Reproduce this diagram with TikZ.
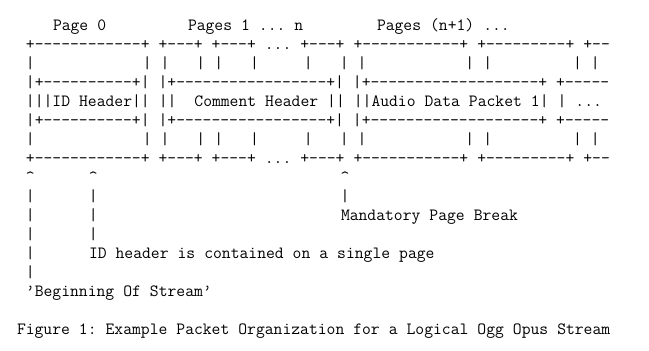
\documentclass[tikz,border=0pt]{standalone}
\usepackage{fontspec}
\newlength\cw
\setlength\cw{9pt}
\newcommand\gap[1]{\hspace*{#1\cw}}
\newcommand\hl[1]{\ifnum#1>0 -\expandafter\hl\expandafter{\the\numexpr#1-1\relax}\fi}
\newcommand\car{\textasciicircum}
\tikzset{
  row/.style={anchor=base west, inner sep=0pt, outer sep=0pt,
    font=\ttfamily\fontsize{17.142857}{19}\selectfont\frenchspacing, text=black},
}
% column c -> x = 9c-19 ; row r -> baseline y = 30.5+19r
\begin{document}
\begin{tikzpicture}[x=1pt,y=-1pt]
\useasboundingbox[fill=white] (0,0) rectangle (649,351);
% page labels
\node[row] (p0) at (9*8-19, 30.5) {Page\gap{1}0};
\node[row] (p1) at (9*23-19, 30.5) {Pages\gap{1}1\gap{1}...\gap{1}n};
\node[row] (p2) at (9*44-19, 30.5) {Pages\gap{1}(n+1)\gap{1}...};
% pages and packets
\node[row] (r1) at (9*5-19, 30.5+19*1) {+\hl{12}+\gap{1}+\hl{3}+\gap{1}+\hl{3}+\gap{1}...\gap{1}+\hl{3}+\gap{1}+\hl{11}+\gap{1}+\hl{9}+\gap{1}+\hl{2}};
\node[row] (r2) at (9*5-19, 30.5+19*2) {|\gap{12}|\gap{1}|\gap{3}|\gap{1}|\gap{3}|\gap{5}|\gap{3}|\gap{1}|\gap{11}|\gap{1}|\gap{9}|\gap{1}|};
\node[row] (r3) at (9*5-19, 30.5+19*3) {|+\hl{10}+|\gap{1}|+\hl{17}+|\gap{1}|+\hl{19}+\gap{1}+\hl{5}};
\node[row] (r4) at (9*5-19, 30.5+19*4) {|||ID\gap{1}Header||\gap{1}||\gap{2}Comment\gap{1}Header\gap{1}||\gap{1}||Audio\gap{1}Data\gap{1}Packet\gap{1}1|\gap{1}|\gap{1}...};
\node[row] (r5) at (9*5-19, 30.5+19*5) {|+\hl{10}+|\gap{1}|+\hl{17}+|\gap{1}|+\hl{19}+\gap{1}+\hl{5}};
\node[row] (r6) at (9*5-19, 30.5+19*6) {|\gap{12}|\gap{1}|\gap{3}|\gap{1}|\gap{3}|\gap{5}|\gap{3}|\gap{1}|\gap{11}|\gap{1}|\gap{9}|\gap{1}|};
\node[row] (r7) at (9*5-19, 30.5+19*7) {+\hl{12}+\gap{1}+\hl{3}+\gap{1}+\hl{3}+\gap{1}...\gap{1}+\hl{3}+\gap{1}+\hl{11}+\gap{1}+\hl{9}+\gap{1}+\hl{2}};
% pointers
\node[row] (r8) at (9*5-19, 30.5+19*8) {\car\gap{6}\car\gap{27}\car};
\node[row] (r9) at (9*5-19, 30.5+19*9) {|\gap{6}|\gap{27}|};
\node[row] (r10) at (9*5-19, 30.5+19*10) {|\gap{6}|};
\node[row] (mpb) at (9*40-19, 30.5+19*10) {Mandatory\gap{1}Page\gap{1}Break};
\node[row] (r11) at (9*5-19, 30.5+19*11) {|\gap{6}|};
\node[row] (r12) at (9*5-19, 30.5+19*12) {|};
\node[row] (idh) at (9*12-19, 30.5+19*12) {ID\gap{1}header\gap{1}is\gap{1}contained\gap{1}on\gap{1}a\gap{1}single\gap{1}page};
\node[row] (r13) at (9*5-19, 30.5+19*13) {|};
\node[row] (bos) at (9*5-19, 30.5+19*14) {’Beginning\gap{1}Of\gap{1}Stream’};
% caption
\node[row] (cap) at (9*4-19, 30.5+19*16) {Figure\gap{1}1:\gap{1}Example\gap{1}Packet\gap{1}Organization\gap{1}for\gap{1}a\gap{1}Logical\gap{1}Ogg\gap{1}Opus\gap{1}Stream};
\end{tikzpicture}
\end{document}
